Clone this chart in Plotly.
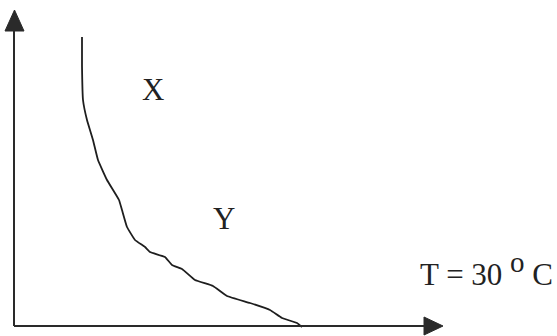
import plotly.graph_objects as go

# curve values (x to the right of the vertical axis, y above the horizontal axis)
curve_x = [68, 68, 69, 73, 79, 84, 93, 105, 108, 113, 121, 131, 136, 151, 158, 168, 181, 199, 213, 236, 256, 268, 283, 288]
curve_y = [289, 260, 226, 206, 186, 166, 146, 126, 116, 99, 86, 79, 74, 69, 61, 57, 46, 40, 30, 23, 16, 8, 3, -1]

labels = ["X", "Y"]
label_x = [139, 210]
label_y = [237, 108]
cond_text = "T = 30 <sup><span style='font-size:29px'>o</span></sup> C"

fig = go.Figure()
fig.add_trace(go.Scatter(x=curve_x, y=curve_y, mode="lines",
                         line=dict(color="#1e1e1e", width=1.8, shape="spline", smoothing=0.3),
                         hoverinfo="skip", showlegend=False))

axis_col = "#2a2a2a"
# axes lines
fig.add_shape(type="line", x0=0, y0=0, x1=0, y1=296, line=dict(color=axis_col, width=2))
fig.add_shape(type="line", x0=0, y0=0, x1=412, y1=0, line=dict(color=axis_col, width=2))
# arrow heads
fig.add_shape(type="path", path="M -9,295 L 10,295 L 0.5,316 Z", fillcolor=axis_col,
              line=dict(color=axis_col, width=1))
fig.add_shape(type="path", path="M 410,-9 L 410,9 L 429,0 Z", fillcolor=axis_col,
              line=dict(color=axis_col, width=1))

font = dict(family="Liberation Serif, Times New Roman, serif", size=31, color="#222222")
for t, x, y in zip(labels, label_x, label_y):
    fig.add_annotation(x=x, y=y, text=t, showarrow=False, font=font, xanchor="center", yanchor="middle")
fig.add_annotation(x=472, y=57, text=cond_text, showarrow=False, font=font,
                   xanchor="center", yanchor="middle")

fig.update_xaxes(range=[-14, 543], visible=False, showgrid=False, zeroline=False)
fig.update_yaxes(range=[-10, 326], visible=False, showgrid=False, zeroline=False)
fig.update_layout(width=557, height=336, margin=dict(l=0, r=0, t=0, b=0),
                  plot_bgcolor="white", paper_bgcolor="white")

fig.write_html("out.html", config={"displayModeBar": False},
               post_script="document.body.style.margin='0';")
